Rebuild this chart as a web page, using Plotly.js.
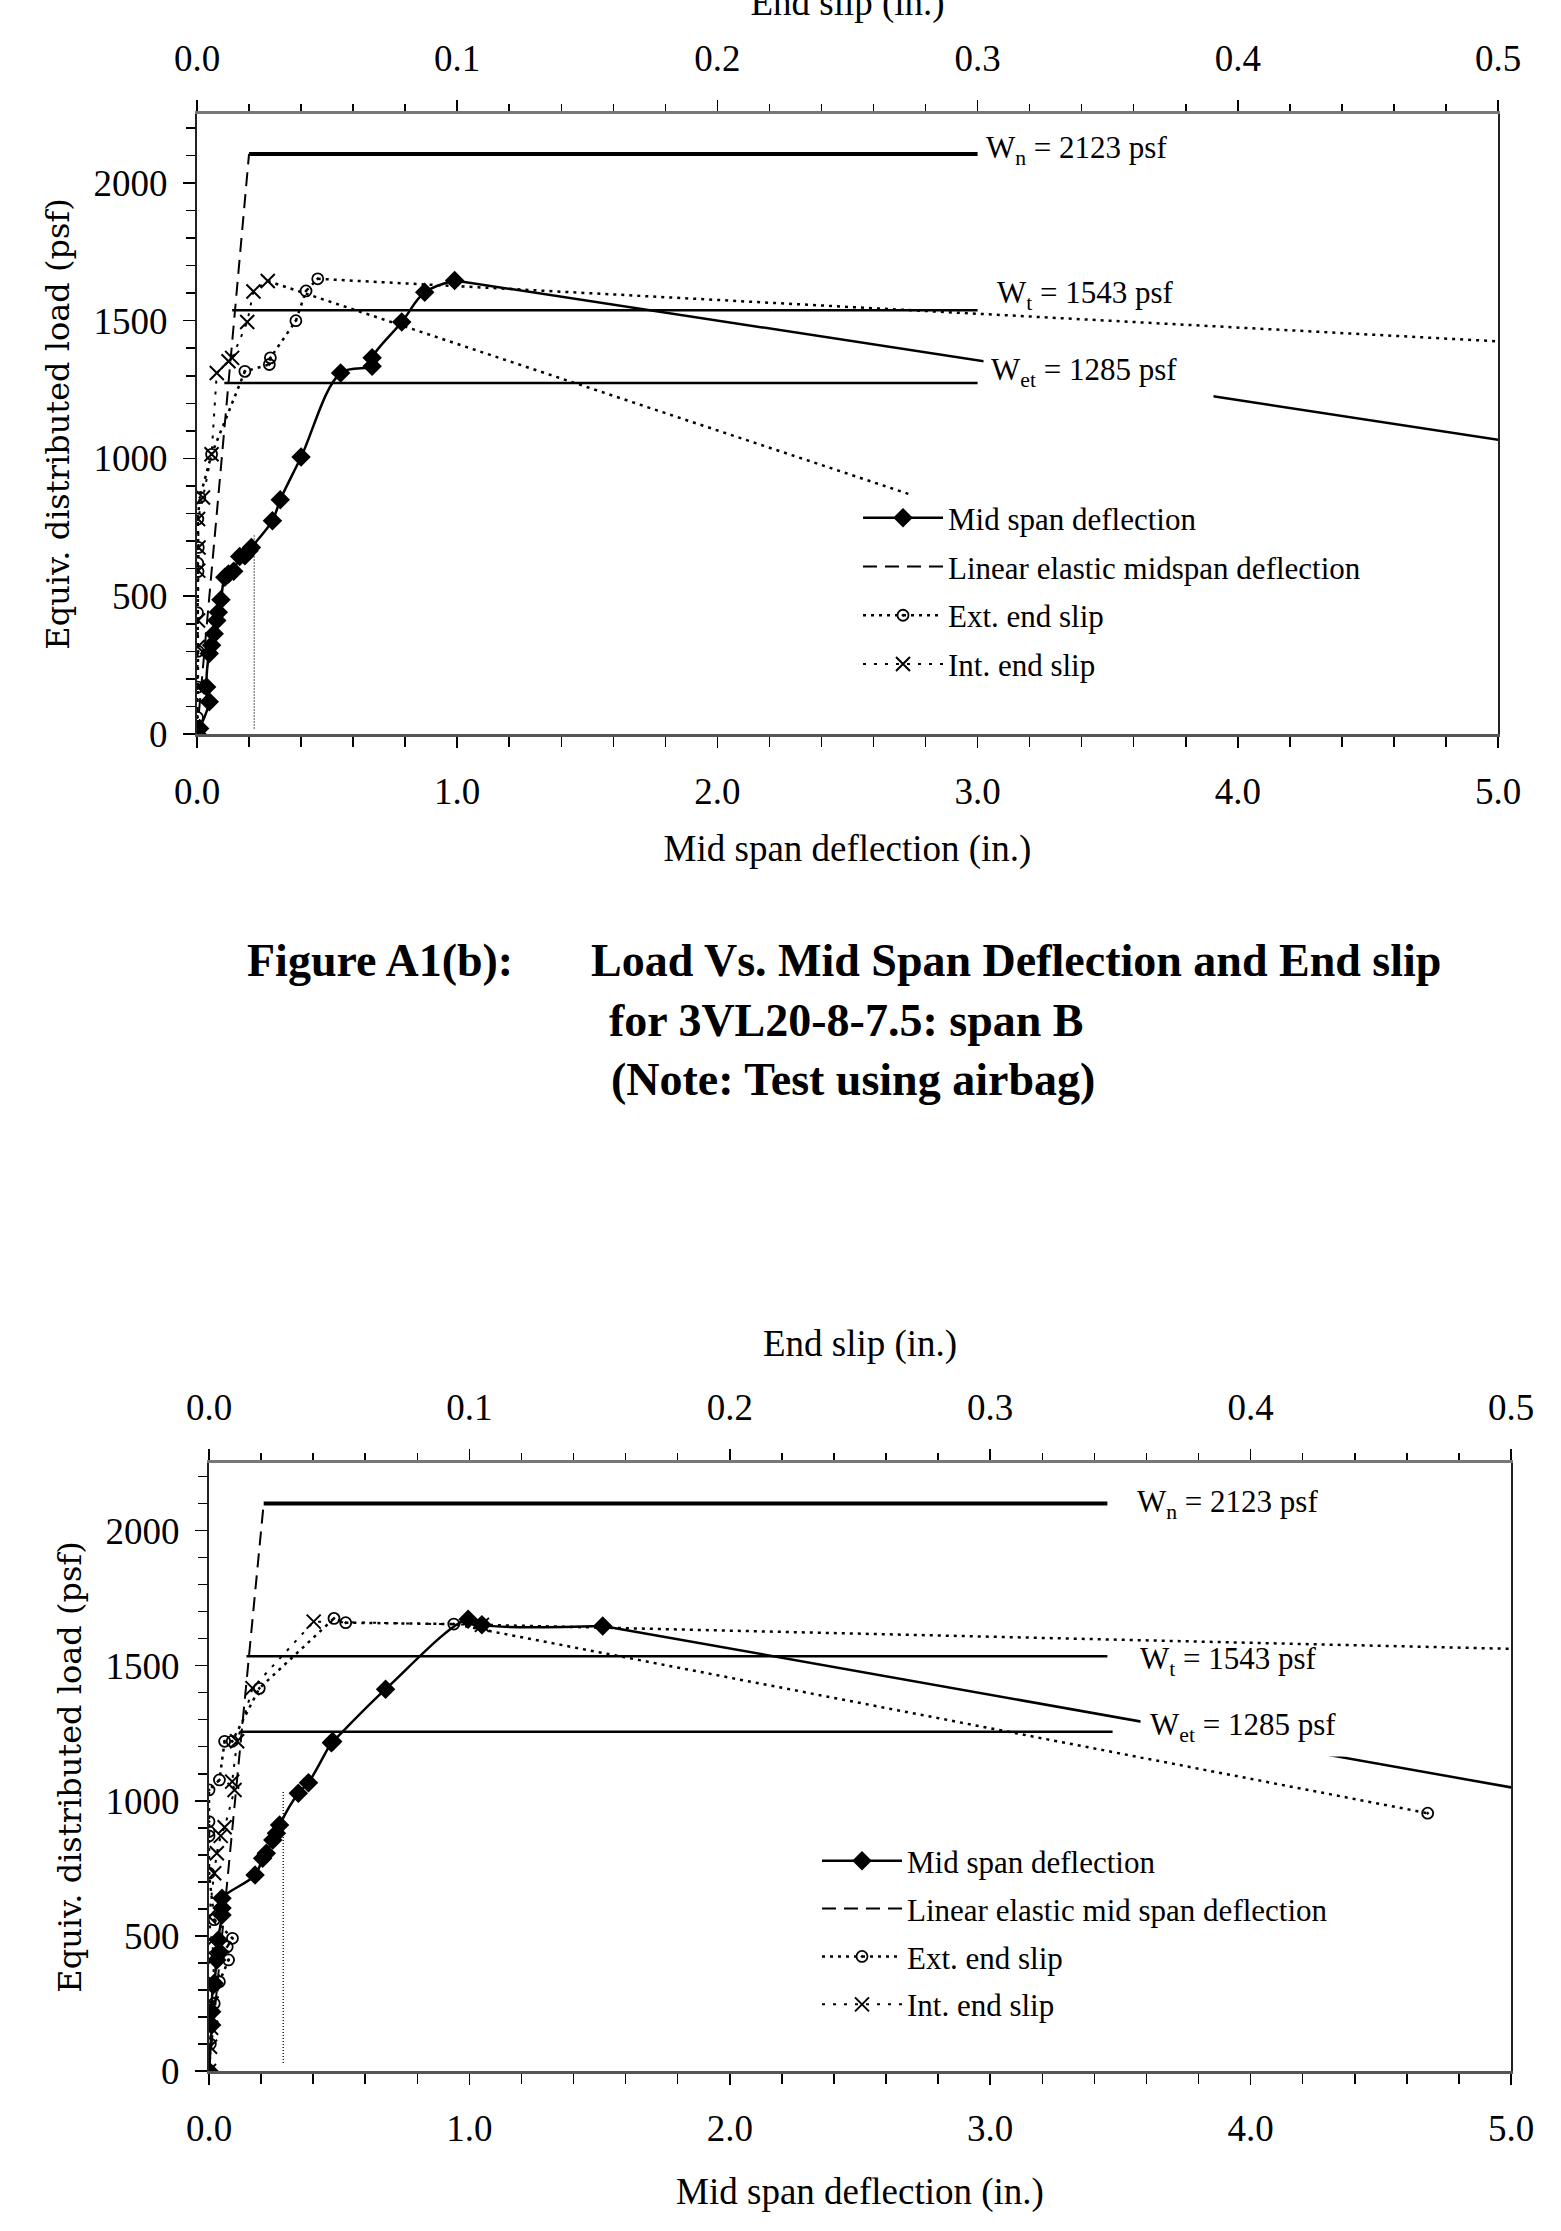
<!DOCTYPE html>
<html><head><meta charset="utf-8">
<script src="https://cdn.plot.ly/plotly-3.0.1.min.js"></script>
<style>html,body{margin:0;padding:0;background:#fff;overflow:hidden}#chart{width:1561px;height:2291px;margin-top:-60px}</style>
</head><body><div id="chart"></div>
<script>
// ---------- Chart 1 (span B) ----------
const mid1Defl = [0, 0.01, 0.047, 0.037, 0.047, 0.056, 0.066, 0.076, 0.082, 0.092, 0.107, 0.121, 0.141, 0.164, 0.184, 0.2, 0.209, 0.29, 0.32, 0.40, 0.552, 0.673, 0.673, 0.787, 0.875, 0.99];
const mid1Load = [0, 20, 117, 171, 292, 322, 364, 412, 442, 487, 569, 581, 591, 644, 647, 665, 677, 774, 850, 1005, 1310, 1335, 1365, 1495, 1603, 1646];
const mid1TailDefl = [0.99, 5.5];
const mid1TailLoad = [1646, 996];
const lin1Defl = [0, 0.2];
const lin1Load = [0, 2105];
const ext1Slip = [0, 0.0002, 0.0003, 0.0004, 0.0002, 0.0004, 0.0003, 0.0005, 0.0003, 0.0011, 0.0056, 0.0184, 0.0278, 0.0282, 0.0380, 0.0419, 0.0464];
const ext1Load = [0, 60, 170, 300, 440, 590, 620, 677, 780, 858, 1015, 1316, 1341, 1365, 1500, 1608, 1652];
const ext1TailSlip = [0.0464, 0.5];
const ext1TailLoad = [1652, 1425];
const int1Slip = [0, 0.0002, 0.0003, 0.0004, 0.0005, 0.0006, 0.0004, 0.0023, 0.0056, 0.0076, 0.0121, 0.0135, 0.0193, 0.0217, 0.0272];
const int1Load = [0, 171, 316, 412, 593, 677, 780, 858, 1015, 1310, 1353, 1365, 1495, 1606, 1644];
const int1TailSlip = [0.0272, 0.2745];
const int1TailLoad = [1644, 868];
const vert1Defl = [0.22, 0.22];
const vert1Load = [20, 720];
const w1Load = [2105, 1538, 1274];
const w1Start = [0.2, 0.135, 0.105];
const w1End = [3.0, 3.0, 3.0];

// ---------- Chart 2 ----------
const mid2Defl = [0, 0.01, 0.01, 0.016, 0.02, 0.03, 0.04, 0.036, 0.05, 0.05, 0.05, 0.177, 0.206, 0.22, 0.245, 0.259, 0.271, 0.343, 0.382, 0.47, 0.475, 0.678, 0.995, 1.048, 1.512];
const mid2Load = [0, 170, 219, 318, 325, 411, 441, 485, 577, 603, 639, 725, 787, 806, 855, 880, 910, 1028, 1067, 1215, 1219, 1413, 1672, 1651, 1647];
const mid2TailDefl = [1.512, 5.5];
const mid2TailLoad = [1647, 964];
const lin2Defl = [0, 0.21];
const lin2Load = [0, 2100];
const ext2Slip = [0, 0.0005, 0.001, 0.002, 0.004, 0.0075, 0.007, 0.009, 0.002, 0, 0, 0, 0, 0, 0.004, 0.006, 0.0089, 0.0193, 0.048, 0.0525, 0.094, 0.468];
const ext2Load = [0, 100, 170, 250, 330, 411, 460, 491, 560, 732, 870, 886, 923, 1040, 1077, 1220, 1220, 1416, 1675, 1659, 1654, 954];
const int2Slip = [0, 0.0004, 0.0008, 0.001, 0.0015, 0.002, 0.001, 0, 0.002, 0.003, 0.0045, 0.006, 0.0098, 0.0089, 0.0108, 0.0167, 0.0402, 0.1048];
const int2Load = [0, 90, 160, 250, 330, 420, 480, 571, 732, 806, 870, 902, 1040, 1071, 1220, 1417, 1663, 1651];
const int2TailSlip = [0.1048, 0.55];
const int2TailLoad = [1651, 1551];
const vert2Defl = [0.285, 0.285];
const vert2Load = [30, 1040];
const w2Load = [2100, 1535, 1255];
const w2Start = [0.21, 0.144, 0.118];
const w2End = [3.45, 3.45, 3.47];

// ---------- Text ----------
const wLabels = ['W<sub>n</sub> = 2123 psf', 'W<sub>t</sub> = 1543 psf', 'W<sub>et</sub> = 1285 psf'];
const seriesNames = ['Mid span deflection', 'Linear elastic midspan deflection', 'Ext. end slip', 'Int. end slip'];
const seriesNames2 = ['Mid span deflection', 'Linear elastic mid span deflection', 'Ext. end slip', 'Int. end slip'];
const xTitle = 'Mid span deflection (in.)';
const x2Title = 'End slip (in.)';
const yTitle = 'Equiv. distributed load (psf)';
const captionLines = ['Figure A1(b):', 'Load Vs. Mid Span Deflection and End slip', 'for 3VL20-8-7.5: span B', '(Note: Test using airbag)'];

const SERIF = 'Liberation Serif, Times New Roman, serif';
const W = 1561, H = 2231, OFF = 60, HT = H + OFF;

function buildTraces(c, d) {
  const xa = c === 1 ? 'x' : 'x3';
  const xb = c === 1 ? 'x2' : 'x4';
  const ya = c === 1 ? 'y' : 'y2';
  const lg = c === 1 ? 'legend' : 'legend2';
  const names = c === 1 ? seriesNames : seriesNames2;
  const t = [];
  t.push({x: d.mid, y: d.midL, xaxis: xa, yaxis: ya, name: names[0], legend: lg, legendgroup: 'g1' + c,
    mode: 'lines+markers', line: {color: '#000', width: 2.5, shape: 'spline', smoothing: 1},
    marker: {symbol: 'diamond', size: 15, color: '#000'}});
  t.push({x: d.lin, y: d.linL, xaxis: xa, yaxis: ya, name: names[1], legend: lg, legendgroup: 'g2' + c,
    mode: 'lines', line: {color: '#000', width: 2, dash: '14px,8px'}});
  t.push({x: d.ext, y: d.extL, xaxis: xb, yaxis: ya, name: names[2], legend: lg, legendgroup: 'g3' + c,
    mode: 'lines+markers', line: {color: '#000', width: 2.5, dash: '3px,5px'},
    marker: {symbol: 'circle-open-dot', size: 11, color: '#000', line: {width: 1.8, color: '#000'}}});
  t.push({x: d.int, y: d.intL, xaxis: xb, yaxis: ya, name: names[3], legend: lg, legendgroup: 'g4' + c,
    mode: 'lines+markers', line: {color: '#000', width: 2, dash: '3px,8px'},
    marker: {symbol: 'x-thin-open', size: 14, color: '#000', line: {width: 2, color: '#000'}}});
  t.push({x: d.midT, y: d.midTL, xaxis: xa, yaxis: ya, showlegend: false, mode: 'lines', line: {color: '#000', width: 2.5}});
  if (d.extT) t.push({x: d.extT, y: d.extTL, xaxis: xb, yaxis: ya, showlegend: false, mode: 'lines', line: {color: '#000', width: 2.5, dash: '3px,5px'}});
  if (d.intT) t.push({x: d.intT, y: d.intTL, xaxis: xb, yaxis: ya, showlegend: false, mode: 'lines', line: {color: '#000', width: 2.5, dash: '3px,5px'}});
  for (let i = 0; i < 3; i++) {
    t.push({x: [d.wS[i], d.wE[i]], y: [d.wL[i], d.wL[i]], xaxis: xa, yaxis: ya, showlegend: false, mode: 'lines',
      line: {color: '#000', width: i === 0 ? 4 : 2.5}});
  }
  t.push({x: d.vert, y: d.vertL, xaxis: xa, yaxis: ya, showlegend: false, mode: 'lines', line: {color: '#000', width: 1.3, dash: '1px,2px'}});
  return t;
}

const traces = [].concat(
  buildTraces(1, {mid: mid1Defl, midL: mid1Load, midT: mid1TailDefl, midTL: mid1TailLoad, lin: lin1Defl, linL: lin1Load,
    ext: ext1Slip, extL: ext1Load, extT: ext1TailSlip, extTL: ext1TailLoad, int: int1Slip, intL: int1Load,
    intT: int1TailSlip, intTL: int1TailLoad, vert: vert1Defl, vertL: vert1Load, wL: w1Load, wS: w1Start, wE: w1End}),
  buildTraces(2, {mid: mid2Defl, midL: mid2Load, midT: mid2TailDefl, midTL: mid2TailLoad, lin: lin2Defl, linL: lin2Load,
    ext: ext2Slip, extL: ext2Load, int: int2Slip, intL: int2Load,
    intT: int2TailSlip, intTL: int2TailLoad, vert: vert2Defl, vertL: vert2Load, wL: w2Load, wS: w2Start, wE: w2End})
);

const tickFont = {family: SERIF, size: 37, color: '#000'};
function xAxisBottom(domain, anchor, standoff) {
  return {domain: domain, anchor: anchor, range: [0, 5], tick0: 0, dtick: 1, tickformat: '.1f',
    ticks: 'outside', ticklen: 11, tickwidth: 1.5, tickcolor: '#000', ticklabelstandoff: 12,
    minor: {dtick: 0.2, ticks: 'outside', ticklen: 10, tickwidth: 1.5, tickcolor: '#000'},
    showline: true, linecolor: '#555', linewidth: 3, showgrid: false, zeroline: false,
    tickfont: tickFont, automargin: false, fixedrange: true,
    title: {text: xTitle, font: {family: SERIF, size: 37, color: '#000'}, standoff: standoff}};
}
function xAxisTop(over, anchor, standoff) {
  return {overlaying: over, anchor: anchor, side: 'top', range: [0, 0.5], tick0: 0, dtick: 0.1, tickformat: '.1f',
    ticks: 'outside', ticklen: 11, tickwidth: 1.5, tickcolor: '#000', ticklabelstandoff: 14,
    minor: {dtick: 0.02, ticks: 'outside', ticklen: 7, tickwidth: 1.5, tickcolor: '#000'},
    showline: true, linecolor: '#777', linewidth: 3, showgrid: false, zeroline: false,
    tickfont: tickFont, automargin: false, fixedrange: true,
    title: {text: x2Title, font: {family: SERIF, size: 37, color: '#000'}, standoff: standoff}};
}
// inner halves of the major ticks that cross the axis line
function innerTicks(over, anchor, side, range, dtick) {
  return {overlaying: over, anchor: anchor, side: side, range: range, tick0: 0, dtick: dtick,
    ticks: 'inside', ticklen: 11, tickwidth: 1.5, tickcolor: '#000', showticklabels: false,
    showline: false, showgrid: false, zeroline: false, automargin: false, fixedrange: true};
}
function yAxis(domain, anchor, title) {
  return {domain: domain, anchor: anchor, range: [0, 2250], tick0: 0, dtick: 500,
    ticks: 'outside', ticklen: 12, tickwidth: 1.5, tickcolor: '#000', ticklabelstandoff: 8,
    minor: {dtick: 100, ticks: 'outside', ticklen: 9, tickwidth: 1.5, tickcolor: '#000'},
    showline: true, linecolor: '#222', linewidth: 2, mirror: true, showgrid: false, zeroline: false,
    tickfont: tickFont, automargin: false, fixedrange: true,
    title: {text: title, font: {family: 'DejaVu Serif, serif', size: 32, color: '#000'}, standoff: 14}};
}

const px = v => v / W, py = v => 1 - (v + OFF) / HT;
const dom = (top, bottom) => [py(bottom), py(top)];

const annotations = [];
function wAnn(xa, ya, ends, loads, xs, ys, bgIdx, bgW, pad) {
  for (let i = 0; i < 3; i++) {
    const a = {xref: xa, yref: ya, x: ends[i], y: loads[i], xanchor: 'left', yanchor: 'middle',
      xshift: xs[i], yshift: ys[i], text: wLabels[i], showarrow: false,
      font: {family: SERIF, size: 31, color: '#000'}, align: 'left'};
    if (i === bgIdx) { a.bgcolor = '#fff'; a.borderpad = pad; if (bgW) a.width = bgW; }
    annotations.push(a);
  }
}
wAnn('x', 'y', w1End, w1Load, [6, 17, 5], [4, 15, 11], 2, 215, 7);
wAnn('x3', 'y2', w2End, w2Load, [28, 31, 27], [0, -5, 5], 2, null, 9);

const capFont = {family: SERIF, size: 46, color: '#000', weight: 700};
annotations.push({xref: 'paper', yref: 'paper', x: px(245), y: py(961), xanchor: 'left', yanchor: 'middle', text: captionLines[0], showarrow: false, font: capFont});
annotations.push({xref: 'paper', yref: 'paper', x: px(589), y: py(961), xanchor: 'left', yanchor: 'middle', text: captionLines[1], showarrow: false, font: capFont});
annotations.push({xref: 'paper', yref: 'paper', x: px(607), y: py(1020), xanchor: 'left', yanchor: 'middle', text: captionLines[2], showarrow: false, font: capFont});
annotations.push({xref: 'paper', yref: 'paper', x: px(609), y: py(1079), xanchor: 'left', yanchor: 'middle', text: captionLines[3], showarrow: false, font: capFont});

const legendBase = {xanchor: 'left', yanchor: 'top', bgcolor: 'rgba(0,0,0,0)', borderwidth: 0,
  font: {family: SERIF, size: 31, color: '#000'}, itemwidth: 80, traceorder: 'grouped'};

const layout = {
  width: W, height: HT, margin: {l: 0, r: 0, t: 0, b: 0},
  paper_bgcolor: '#fff', plot_bgcolor: '#fff',
  font: {family: SERIF, color: '#000'},
  xaxis: xAxisBottom([197 / W, 1498 / W], 'y', 24),
  xaxis2: xAxisTop('x', 'y', 12),
  xaxis5: innerTicks('x', 'y', 'top', [0, 0.5], 0.1),
  yaxis: yAxis(dom(114, 734), 'x', yTitle),
  xaxis3: xAxisBottom([209 / W, 1511 / W], 'y2', 30),
  xaxis4: xAxisTop('x3', 'y2', 20),
  xaxis6: innerTicks('x3', 'y2', 'top', [0, 0.5], 0.1),
  xaxis7: innerTicks('x3', 'y2', 'bottom', [0, 5], 1),
  yaxis2: yAxis(dom(1463, 2071), 'x3', yTitle),
  legend: Object.assign({}, legendBase, {x: px(858), y: py(491), tracegroupgap: 5.5}),
  legend2: Object.assign({}, legendBase, {x: px(817), y: py(1834), tracegroupgap: 4.6}),
  annotations: annotations,
  showlegend: true
};

Plotly.newPlot('chart', traces, layout, {displayModeBar: false, staticPlot: true});
</script>
</body></html>
